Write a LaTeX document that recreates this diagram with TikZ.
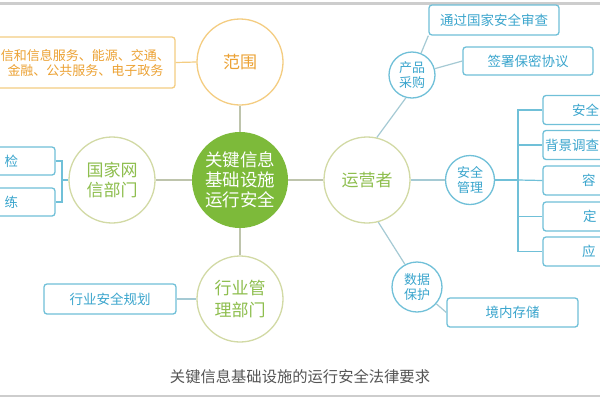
\documentclass[tikz,border=0pt]{standalone}
\usepackage{fontspec}
\setmainfont{Noto Sans CJK SC}
\definecolor{cgreen}{RGB}{125,186,58}
\definecolor{corange}{RGB}{244,205,130}
\definecolor{corangetxt}{RGB}{236,162,52}
\definecolor{cblue}{RGB}{112,192,216}
\definecolor{cbluetxt}{RGB}{58,165,205}
\definecolor{colive}{RGB}{210,218,165}
\definecolor{colivetxt}{RGB}{142,190,78}
\definecolor{clineg}{RGB}{190,196,172}
\definecolor{clineb}{RGB}{165,202,212}
\definecolor{cframe}{RGB}{205,205,205}
\definecolor{ccap}{RGB}{85,85,85}
\newcommand{\fzA}{\fontsize{17}{20}\selectfont}
\newcommand{\fzH}{\fontsize{17}{22.5}\selectfont}
\newcommand{\fzB}{\fontsize{13.5}{16}\selectfont}
\newcommand{\fzC}{\fontsize{13}{15}\selectfont}
\newcommand{\fzD}{\fontsize{15.3}{18}\selectfont}
\newcommand{\fzE}{\fontsize{13}{14.5}\selectfont}
\newcommand{\fzF}{\fontsize{17.5}{20}\selectfont}
\tikzset{
  bigcirc/.style={circle, draw=colive, line width=1.3pt, minimum size=86pt, inner sep=0pt, fill=white, text=colivetxt, font=\fzA, align=center},
  maincirc/.style={circle, fill=cgreen, draw=none, minimum size=96pt, inner sep=0pt, text=white, font=\fzF, align=center},
  smallcirc/.style={circle, draw=cblue, line width=1.3pt, inner sep=0pt, fill=white, text=cbluetxt, font=\fzC, align=center},
  bluebox/.style={draw=cblue, rounded corners=3pt, line width=1.3pt, fill=white, text=cbluetxt, font=\fzB, inner sep=0pt},
  boxlabel/.style={text=cbluetxt, font=\fzB, inner sep=0pt, anchor=west},
  lg/.style={draw=clineg, line width=1.2pt},
  lb/.style={draw=clineb, line width=1.2pt},
  lbr/.style={draw=cblue, line width=1.2pt},
}
\begin{document}
\begin{tikzpicture}[x=1pt,y=-1pt]
\useasboundingbox (0,0) rectangle (600,400);
\fill[white] (0,0) rectangle (600,400);
\draw[cframe, line width=2.5pt] (0,3.5) -- (600,3.5);
\draw[cframe, line width=2.5pt] (0,396) -- (600,396);

% circles
\node[maincirc] (core) at (240,180) {关键信息\\基础设施\\运行安全};
\node[bigcirc, draw=corange, text=corangetxt] (fw) at (240,62) {范围};
\node[bigcirc] (gj) at (112,180) {国家网\\信部门};
\node[bigcirc, font=\fzH] (hy) at (240,299) {行业管\\理部门};
\node[bigcirc] (yy) at (367,180) {运营者};
\node[smallcirc, minimum size=46pt] (cp) at (412,75) {产品\\采购};
\node[smallcirc, minimum size=49pt] (aq) at (470,180) {安全\\管理};
\node[smallcirc, minimum size=50pt] (sj) at (417,287) {数据\\保护};

% boxes
\node[draw=corange, rounded corners=3pt, line width=1.3pt, minimum width=190pt, minimum height=51pt, inner sep=0pt] (fwbox) at (80,62.5) {};
\node[text=corangetxt, font=\fzE, align=center, inner sep=0pt] (fwtext) at (85.5,63) {信和信息服务、能源、交通、\\金融、公共服务、电子政务};
\node[bluebox, minimum width=100pt, minimum height=28pt] (cj) at (5,161) {};
\node[bluebox, minimum width=100pt, minimum height=28pt] (yl) at (5,202) {};
\node[boxlabel] (cjt) at (4.5,161) {检};
\node[boxlabel] (ylt) at (4.5,202) {练};
\node[bluebox, minimum width=132pt, minimum height=30pt] (gh) at (110,299) {行业安全规划};
\node[bluebox, minimum width=130pt, minimum height=30pt] (sc) at (494,20) {通过国家安全审查};
\node[bluebox, minimum width=130pt, minimum height=28pt] (bm) at (528,61) {签署保密协议};
\node[bluebox, minimum width=131pt, minimum height=29pt] (cc) at (512.5,312.5) {境内存储};
\node[bluebox, minimum width=130pt, minimum height=29pt] (r1) at (608,110) {};
\node[bluebox, minimum width=130pt, minimum height=29pt] (r2) at (608,145) {};
\node[bluebox, minimum width=130pt, minimum height=29pt] (r3) at (608,180.5) {};
\node[bluebox, minimum width=130pt, minimum height=29pt] (r4) at (608,216.5) {};
\node[bluebox, minimum width=130pt, minimum height=29pt] (r5) at (608,251.5) {};
\node[boxlabel] (t1) at (572,110) {安全};
\node[boxlabel] (t2) at (545,145) {背景调查};
\node[boxlabel] (t3) at (582,180.5) {容};
\node[boxlabel] (t4) at (583,216.5) {定};
\node[boxlabel] (t5) at (582,251.5) {应};

% caption
\node[text=ccap, font=\fzD, inner sep=0pt] (cap) at (300,377) {关键信息基础设施的运行安全法律要求};

% connectors
\coordinate (gjb) at (62,180);
\coordinate (aqb) at (518,180);
\draw[lg] (fw.south) -- (core.north);
\draw[draw=corange, line width=1.2pt] (fwbox.east) -- (fw.west);
\draw[lg] (core.west) -- (gj.east);
\draw[lg] (core.south) -- (hy.north);
\draw[lg] (core.east) -- (yy.west);
\draw[lbr] (gj.west) -- (gjb);
\draw[lbr] (cj.east) -| (gjb) |- (yl.east);
\draw[lb] (gh.east) -- (hy.west);
\draw[lb] (yy.77) -- (cp.-105);
\draw[lb] (cp) -- (sc.south west);
\draw[lb] (cp) -- (bm.west);
\draw[lb] (yy.east) -- (aq.west);
\draw[lb] (yy.-75) -- (sj.118);
\draw[lb] (sj) -- (cc.west);
\draw[lbr] (aq.east) -- (aqb);
\draw[lbr] (r1.west) -| (aqb) |- (r5.west);
\draw[lbr] (r2.west) -- (r2.west -| aqb);
\draw[lbr] (r4.west) -- (r4.west -| aqb);
\draw[lbr] (r3.west) -- (aqb);
\end{tikzpicture}
\end{document}
